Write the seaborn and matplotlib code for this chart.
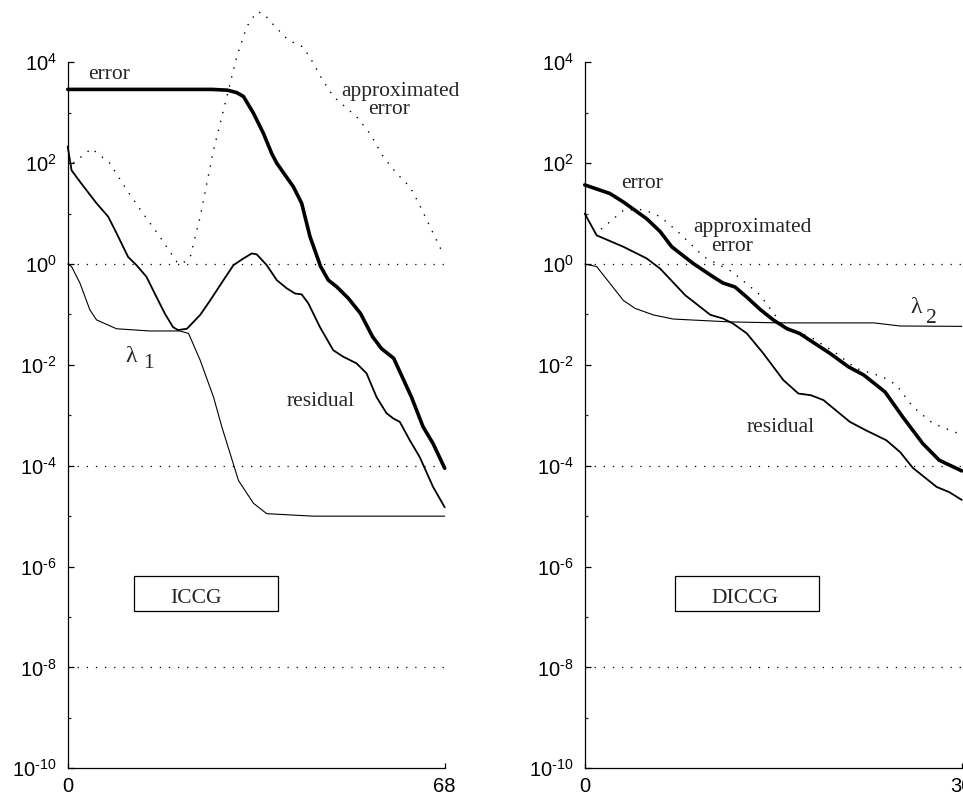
import math
import matplotlib
matplotlib.use("Agg")
import matplotlib.pyplot as plt
import seaborn as sns
from matplotlib.patches import Rectangle
from matplotlib.ticker import FixedLocator, FuncFormatter, NullFormatter

# ---------------- data ----------------
# Left panel: ICCG
iccg_err_x = [0, 10, 20, 26, 28.8, 30.5, 31.7, 33.5, 35.3, 36.8, 37.7, 40.7, 42.2, 43.7, 45.6,
              47.0, 48.5, 50.6, 52.8, 55.0, 56.6, 58.8, 62.0, 64.1, 65.9, 68]
iccg_err_y = [2.9e3, 2.9e3, 2.9e3, 2.9e3, 2.8e3, 2.5e3, 2.1e3, 9.8e2, 3.9e2, 1.55e2, 1.0e2, 34, 16, 3.5, 0.9,
              0.48, 0.355, 0.21, 0.105, 0.036, 0.021, 0.0135, 2.3e-3, 5.9e-4, 2.75e-4, 8.9e-5]

iccg_res_x = [0, 0.7, 2.2, 5.2, 7.3, 8.8, 10.9, 12.4, 14.2, 15.7, 17.5, 19.0, 19.9, 21.5, 23.9, 25.7,
              28.1, 29.9, 31.7, 33.2, 34.1, 35.9, 37.7, 39.5, 41.0, 42.2, 43.4, 45.5, 47.9, 49.7,
              52.1, 53.9, 55.7, 57.5, 58.7, 59.9, 61.7, 63.5, 65.9, 68]
iccg_res_y = [214, 72, 43, 16, 8.7, 4.1, 1.38, 0.95, 0.56, 0.26, 0.105, 0.056, 0.049, 0.052, 0.098, 0.19,
              0.48, 0.95, 1.29, 1.62, 1.55, 0.95, 0.48, 0.33, 0.26, 0.25, 0.166, 0.056, 0.0195, 0.0145,
              0.0107, 6.8e-3, 2.3e-3, 1.1e-3, 8.7e-4, 7.4e-4, 3.2e-4, 1.48e-4, 3.8e-5, 1.5e-5]

iccg_lam_x = [0, 0.7, 2.2, 4.0, 5.2, 8.8, 14.8, 20.2, 21.8, 23.9, 26.3, 27.8, 30.8, 33.5, 35.9, 44.3, 68]
iccg_lam_y = [1.0, 0.89, 0.42, 0.123, 0.078, 0.052, 0.047, 0.047, 0.042, 0.0123, 2.3e-3, 5.9e-4,
              5.1e-5, 1.8e-5, 1.12e-5, 1.0e-5, 1.0e-5]

iccg_apx_x = [1.0, 4.3, 7.6, 10.6, 13.6, 16.6, 19.7, 20.6, 22.1, 23.9, 26.3, 28.7, 30.5, 32.3, 34.1,
              35.3, 37.4, 39.8, 42.5, 44.2, 45.8, 47.9, 52.1, 54.5, 56.9, 59.3, 61.7, 63.0, 64.8, 65.9, 67.7]
iccg_apx_y = [100, 195, 100, 30, 10, 3.5, 1.1, 1.0, 1.38, 8.7, 182, 2.1e3, 1.29e4, 5.1e4, 1.0e5,
              9.3e4, 5.1e4, 2.75e4, 2.0e4, 1.0e4, 4.8e3, 2.1e3, 832, 389, 135, 63, 34, 18.6, 7.4, 4.1, 1.6]

# Right panel: DICCG
diccg_err_x = [0, 2.0, 3.07, 4.93, 6.0, 6.92, 8.64, 10.2, 11.0, 11.96, 12.9, 14.0, 15.0, 16.1, 17.1,
               17.9, 19.5, 21.0, 22.2, 23.9, 25.3, 26.9, 28.2, 30]
diccg_err_y = [37, 25, 17, 7.9, 4.4, 2.2, 1.02, 0.56, 0.42, 0.35, 0.22, 0.123, 0.078, 0.052, 0.042,
               0.031, 0.017, 9.1e-3, 6.3e-3, 2.9e-3, 9.3e-4, 2.75e-4, 1.29e-4, 7.9e-5]

diccg_res_x = [0, 0.95, 3.07, 4.93, 6.0, 8.0, 10.0, 11.0, 11.8, 12.9, 14.2, 15.8, 17.0, 18.0, 19.0,
               21.1, 22.4, 24.0, 25.1, 26.1, 28.0, 29.0, 30]
diccg_res_y = [10, 3.7, 2.2, 1.29, 0.81, 0.24, 0.098, 0.083, 0.066, 0.042, 0.017, 5.0e-3, 2.7e-3, 2.5e-3,
               2.0e-3, 7.4e-4, 5.0e-4, 3.2e-4, 1.86e-4, 9.1e-5, 3.8e-5, 3.0e-5, 2.1e-5]

diccg_lam_x = [0, 0.95, 3.07, 4.0, 5.45, 7.05, 11.6, 15.6, 23.0, 25.1, 30]
diccg_lam_y = [1.0, 0.89, 0.19, 0.132, 0.098, 0.081, 0.071, 0.068, 0.068, 0.059, 0.058]

diccg_apx_x = [1.3, 3.1, 4.7, 6.0, 7.4, 9.5, 11.7, 13.9, 15.1, 15.8, 18.2, 20.0, 21.6, 23.7, 24.8,
               26.1, 27.7, 30]
diccg_apx_y = [4.9, 11.7, 12, 8.7, 4.4, 1.38, 0.71, 0.25, 0.1, 0.059, 0.033, 0.017, 8.5e-3, 5.8e-3,
               4.0e-3, 1.48e-3, 6.9e-4, 4.1e-4]

ref_levels = [1.0, 1e-4, 1e-8]
major_exps = [4, 2, 0, -2, -4, -6, -8, -10]
minor_exps = [3, 1, -1, -3, -5, -7, -9]
left_xticks = [0, 68]
right_xticks = [0, 30]

# ---------------- style ----------------
sns.set_style("white")
plt.rcParams["font.family"] = ["Liberation Sans", "DejaVu Sans"]
plt.rcParams["mathtext.fontset"] = "custom"
plt.rcParams["mathtext.rm"] = "Liberation Sans"
plt.rcParams["mathtext.it"] = "Liberation Sans:italic"
plt.rcParams["mathtext.bf"] = "Liberation Sans:bold"

SERIF = ["Liberation Serif", "DejaVu Serif"]

fig = plt.figure(figsize=(9.63, 7.96), dpi=100)
axL = fig.add_axes([0.0703, 0.0348, 0.3915, 0.9503])
axR = fig.add_axes([0.6072, 0.0348, 0.3915, 0.9503])


def exp_label(v, pos):
    k = int(round(math.log10(v)))
    if k < 0:
        return r"$\mathregular{10^{\text{-}%d}}$" % (-k)
    return r"$\mathregular{10^{%d}}$" % k


def style_axes(ax, xmax, xticks):
    ax.set_yscale("log")
    ax.set_xlim(0, xmax)
    ax.set_ylim(1e-10, 1e5)
    for s in ["top", "right"]:
        ax.spines[s].set_visible(False)
    for s in ["left", "bottom"]:
        ax.spines[s].set_visible(True)
        ax.spines[s].set_color("black")
        ax.spines[s].set_linewidth(0.9)
    ax.spines["left"].set_bounds(1e-10, 1e4)
    ax.yaxis.set_major_locator(FixedLocator([10.0 ** k for k in major_exps]))
    ax.yaxis.set_minor_locator(FixedLocator([10.0 ** k for k in minor_exps]))
    ax.yaxis.set_major_formatter(FuncFormatter(exp_label))
    ax.yaxis.set_minor_formatter(NullFormatter())
    ax.set_xticks(xticks)
    ax.set_xticklabels([str(t) for t in xticks])
    ax.tick_params(axis="y", which="major", direction="in", length=4.3, width=0.9,
                   labelsize=14.5, pad=8, colors="black", left=True)
    ax.tick_params(axis="y", which="minor", direction="in", length=2.4, width=0.9, left=True)
    ax.tick_params(axis="x", which="major", direction="in", length=3.8, width=0.9,
                   labelsize=14.5, pad=6, colors="black", bottom=True)
    ax.grid(False)
    ax.set_xlabel("")
    ax.set_ylabel("")
    for lv in ref_levels:
        ax.axhline(lv, color="black", lw=0.9, ls=(0, (1, 6.3)), zorder=1)


def draw(ax, ex, ey, rx, ry, lx, ly, ax_, ay_):
    sns.lineplot(x=ex, y=ey, ax=ax, color="black", linewidth=2.6, clip_on=False, zorder=4)
    sns.lineplot(x=rx, y=ry, ax=ax, color="black", linewidth=1.3, clip_on=False, zorder=3)
    sns.lineplot(x=lx, y=ly, ax=ax, color="black", linewidth=0.8, clip_on=False, zorder=3)
    sns.lineplot(x=ax_, y=ay_, ax=ax, color="black", linewidth=1.0, linestyle=(0, (1, 5.6)),
                 clip_on=False, zorder=2)


draw(axL, iccg_err_x, iccg_err_y, iccg_res_x, iccg_res_y, iccg_lam_x, iccg_lam_y, iccg_apx_x, iccg_apx_y)
draw(axR, diccg_err_x, diccg_err_y, diccg_res_x, diccg_res_y, diccg_lam_x, diccg_lam_y, diccg_apx_x, diccg_apx_y)
style_axes(axL, 68, left_xticks)
style_axes(axR, 30, right_xticks)

FS = 15.5
# left annotations
axL.text(7.47, 4.7e3, "error", family=SERIF, fontsize=FS, ha="center", va="baseline")
axL.text(60.06, 2.15e3, "approximated", family=SERIF, fontsize=FS, ha="center", va="baseline")
axL.text(58.0, 9.3e2, "error", family=SERIF, fontsize=FS, ha="center", va="baseline")
axL.text(45.65, 1.5e-3, "residual", family=SERIF, fontsize=FS, ha="center", va="baseline")
axL.text(11.5, 0.0112, "λ", family=SERIF, fontsize=17, ha="center", va="baseline")
axL.text(14.5, 8.5e-3, "1", family=SERIF, fontsize=FS, ha="center", va="baseline")
axL.add_patch(Rectangle((11.96, 1.29e-7), 38.0 - 11.96, 6.5e-7 - 1.29e-7, fill=False,
                        edgecolor="black", lw=0.9, zorder=5))
axL.text(23.1, 1.9e-7, "ICCG", family=SERIF, fontsize=FS, ha="center", va="baseline")

# right annotations
axR.text(4.6, 31.6, "error", family=SERIF, fontsize=FS, ha="center", va="baseline")
axR.text(13.35, 4.4, "approximated", family=SERIF, fontsize=FS, ha="center", va="baseline")
axR.text(11.7, 1.8, "error", family=SERIF, fontsize=FS, ha="center", va="baseline")
axR.text(15.6, 4.7e-4, "residual", family=SERIF, fontsize=FS, ha="center", va="baseline")
axR.text(26.35, 0.106, "λ", family=SERIF, fontsize=17, ha="center", va="baseline")
axR.text(27.6, 0.067, "2", family=SERIF, fontsize=FS, ha="center", va="baseline")
axR.add_patch(Rectangle((7.19, 1.29e-7), 18.67 - 7.19, 6.5e-7 - 1.29e-7, fill=False,
                        edgecolor="black", lw=0.9, zorder=5))
axR.text(12.73, 1.9e-7, "DICCG", family=SERIF, fontsize=FS, ha="center", va="baseline")

fig.savefig("out.png", dpi=100, facecolor="white")
